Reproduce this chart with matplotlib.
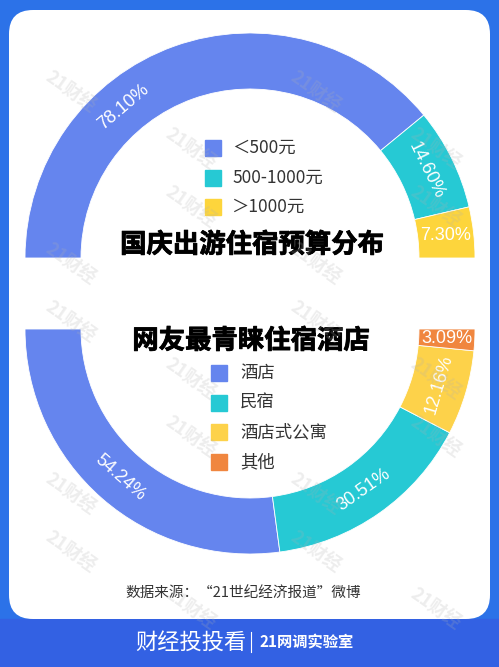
import numpy as np
import matplotlib
matplotlib.use('Agg')
import matplotlib.pyplot as plt
import matplotlib.patheffects as pe
from matplotlib.patches import FancyBboxPatch, Rectangle

plt.rcParams['font.family'] = ['Noto Sans CJK SC', 'DejaVu Sans']

# data
budget_labels = ['＜500元', '500-1000元', '＞1000元']
budget_values = [78.10, 14.60, 7.30]
budget_colors = ['#6585ee', '#26c9d4', '#fdd53c']

stay_labels = ['酒店', '民宿', '酒店式公寓', '其他']
stay_values = [54.24, 30.51, 12.16, 3.09]
stay_colors = ['#6585ee', '#26c9d4', '#fdd24a', '#f0863f']

title_top = '国庆出游住宿预算分布'
title_bottom = '网友最青睐住宿酒店'
source_text = '数据来源：“21世纪经济报道”微博'

W, H = 499, 667
fig = plt.figure(figsize=(W / 100, H / 100), dpi=100)
ax = fig.add_axes([0, 0, 1, 1])
ax.set_xlim(0, W)
ax.set_ylim(0, H)
ax.axis('off')

# background frame
fig.patch.set_facecolor('#2c72e8')
ax.add_patch(Rectangle((0, 0), W, 48, color='#3361e3', zorder=0))
ax.add_patch(FancyBboxPatch((9 + 24, 48 + 24), 481 - 48, 609 - 48,
                            boxstyle='round,pad=24', fc='white', ec='none', zorder=1))

# watermarks
for row, y in enumerate(np.arange(575, 20, -115)):
    for x in ([70, 315] if row % 2 == 0 else [190, 435]):
        ax.text(x, y, '21财经', fontsize=13, color='#b0b0b0', alpha=0.22, rotation=-35,
                ha='center', va='center', fontweight='bold', zorder=6)
    for x in ([190, 435] if row % 2 == 0 else [70, 315]):
        ax.text(x, y - 57, '21财经', fontsize=13, color='#b0b0b0', alpha=0.22, rotation=-35,
                ha='center', va='center', fontweight='bold', zorder=6)

R, ring = 225, 56


def half_donut(values, colors, center, ccw):
    fr = [v / 200 for v in values]
    wedges, _ = ax.pie(fr, colors=colors, center=center, radius=R, startangle=180,
                       counterclock=ccw, normalize=False, frame=True,
                       wedgeprops=dict(width=ring, edgecolor='white', linewidth=0.6))
    for w in wedges:
        w.set_zorder(3)
    return wedges


def label_ring(wedges, values, center, big_shift=None):
    for i, (w, v) in enumerate(zip(wedges, values)):
        a = (w.theta1 + w.theta2) / 2
        if big_shift is not None and i == 0:
            a = w.theta1 + (w.theta2 - w.theta1) * big_shift
        rr = R - ring / 2
        x = center[0] + rr * np.cos(np.radians(a))
        y = center[1] + rr * np.sin(np.radians(a))
        rot = (a - 90) % 180
        if rot > 90:
            rot -= 180
        if i == len(values) - 1:
            rot = 0
        ax.text(x, y, f'{v:.2f}%', color='white', fontsize=13, rotation=rot,
                ha='center', va='center', family='Liberation Sans', zorder=5)


bold = [pe.withStroke(linewidth=0.6, foreground='black')]

# top donut
c1 = (250, H - 258)
w1 = half_donut(budget_values, budget_colors, c1, False)
label_ring(w1, budget_values, c1, big_shift=0.645)

for i, (lab, col) in enumerate(zip(budget_labels, budget_colors)):
    y = H - (148 + 29.5 * i)
    ax.add_patch(Rectangle((205, y - 8), 16, 16, color=col, zorder=4))
    ax.text(232, y, lab, fontsize=12.5, color='#333333', va='center', ha='left', zorder=5)
ax.text(252, H - 245, title_top, fontsize=19, fontweight='bold', color='black',
        ha='center', va='center', zorder=5, path_effects=bold)

# bottom donut
c2 = (250, H - 329)
w2 = half_donut(stay_values, stay_colors, c2, True)
label_ring(w2, stay_values, c2)

for i, (lab, col) in enumerate(zip(stay_labels, stay_colors)):
    y = H - (373 + 29.7 * i)
    ax.add_patch(Rectangle((211, y - 8), 16, 16, color=col, zorder=4))
    ax.text(240, y, lab, fontsize=12.5, color='#333333', va='center', ha='left', zorder=5)
ax.text(251, H - 341, title_bottom, fontsize=19, fontweight='bold', color='black',
        ha='center', va='center', zorder=5, path_effects=bold)

# pie may touch the limits, set them back
ax.set_xlim(0, W)
ax.set_ylim(0, H)
ax.set_aspect('auto')
ax.axis('off')

# footer
ax.text(243, H - 594, source_text, fontsize=10.5, color='#333333', ha='center',
        va='center', zorder=5)
ax.text(191, H - 642, '财经投投看', fontsize=16, color='white', ha='center',
        va='center', zorder=5)
ax.plot([251, 251], [H - 632, H - 652], color='white', lw=0.8, zorder=5)
ax.text(260, H - 642, '21网调实验室', fontsize=11, fontweight='bold', color='white',
        ha='left', va='center', zorder=5)

fig.savefig('out.png', dpi=100, facecolor=fig.get_facecolor())
